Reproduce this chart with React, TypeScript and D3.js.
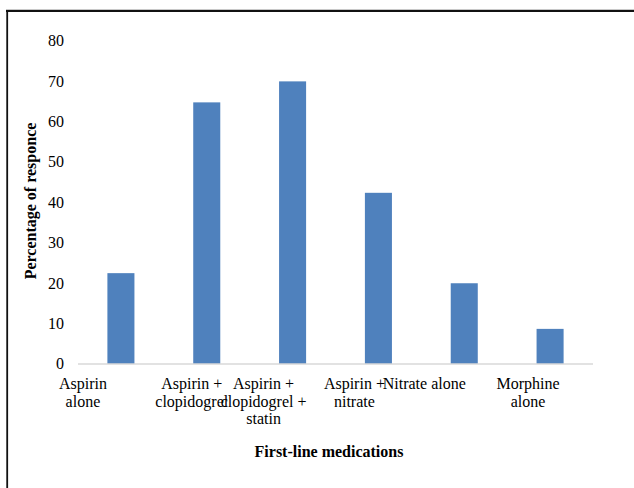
import React from "react";
import * as d3 from "d3";

const categories = [
  "Aspirin alone",
  "Aspirin + clopidogrel",
  "Aspirin + clopidogrel + statin",
  "Aspirin + nitrate",
  "Nitrate alone",
  "Morphine alone",
];
const categoryLines = [
  ["Aspirin", "alone"],
  ["Aspirin +", "clopidogrel"],
  ["Aspirin +", "clopidogrel +", "statin"],
  ["Aspirin +", "nitrate"],
  ["Nitrate alone"],
  ["Morphine", "alone"],
];
const values = [22.5, 64.8, 70, 42.4, 20, 8.7];
const yTicks = [0, 10, 20, 30, 40, 50, 60, 70, 80];
const yTitle = "Percentage of responce";
const xTitle = "First-line medications";

// layout (not data)
const W = 634;
const H = 488;
const labelShift = [-38, -15, -29, -24, -40, -22];
const FONT = "'Liberation Serif', 'Times New Roman', serif";

export default function App() {
  const x = d3
    .scaleBand<string>()
    .domain(categories)
    .range([78, 593])
    .paddingInner(0.685)
    .paddingOuter(0.3425);
  const y = d3.scaleLinear().domain([0, 80]).range([364, 41]);

  return (
    <svg
      width={W}
      height={H}
      style={{ position: "absolute", left: 0, top: 0, background: "#fff" }}
      fontFamily={FONT}
    >
      <rect x={0} y={0} width={W} height={H} fill="#fff" />
      {/* frame */}
      <line x1={6} x2={W} y1={9.5} y2={9.5} stroke="#c8c8c8" strokeWidth={1} />
      <line x1={6} x2={W + 5} y1={11} y2={11} stroke="#111" strokeWidth={2} />
      <line x1={7.2} x2={7.2} y1={10} y2={H + 5} stroke="#111" strokeWidth={1.8} />

      {/* bars */}
      {categories.map((c, i) => (
        <rect
          key={c}
          x={x(c)}
          y={y(values[i])}
          width={x.bandwidth()}
          height={y(0) - y(values[i])}
          fill="#4F81BD"
        />
      ))}

      {/* x axis line */}
      <line x1={78} x2={593} y1={y(0)} y2={y(0)} stroke="#d9d9d9" strokeWidth={1.5} />

      {/* y tick labels */}
      {yTicks.map((t) => (
        <text
          key={t}
          x={64}
          y={y(t)}
          dy="0.33em"
          textAnchor="end"
          fontSize={16}
          fill="#000"
        >
          {t}
        </text>
      ))}

      {/* category labels */}
      {categories.map((c, i) => {
        const cx = (x(c) as number) + x.bandwidth() / 2 + labelShift[i];
        return (
          <text key={c} x={cx} y={389} textAnchor="middle" fontSize={16} fill="#000">
            {categoryLines[i].map((ln, j) => (
              <tspan key={j} x={cx} y={389 + j * 17.7}>
                {ln}
              </tspan>
            ))}
          </text>
        );
      })}

      {/* axis titles */}
      <text
        transform={`translate(36,201) rotate(-90)`}
        textAnchor="middle"
        fontSize={16}
        fontWeight="bold"
        fill="#000"
      >
        {yTitle}
      </text>
      <text x={329} y={457} textAnchor="middle" fontSize={16} fontWeight="bold" fill="#000">
        {xTitle}
      </text>
    </svg>
  );
}
